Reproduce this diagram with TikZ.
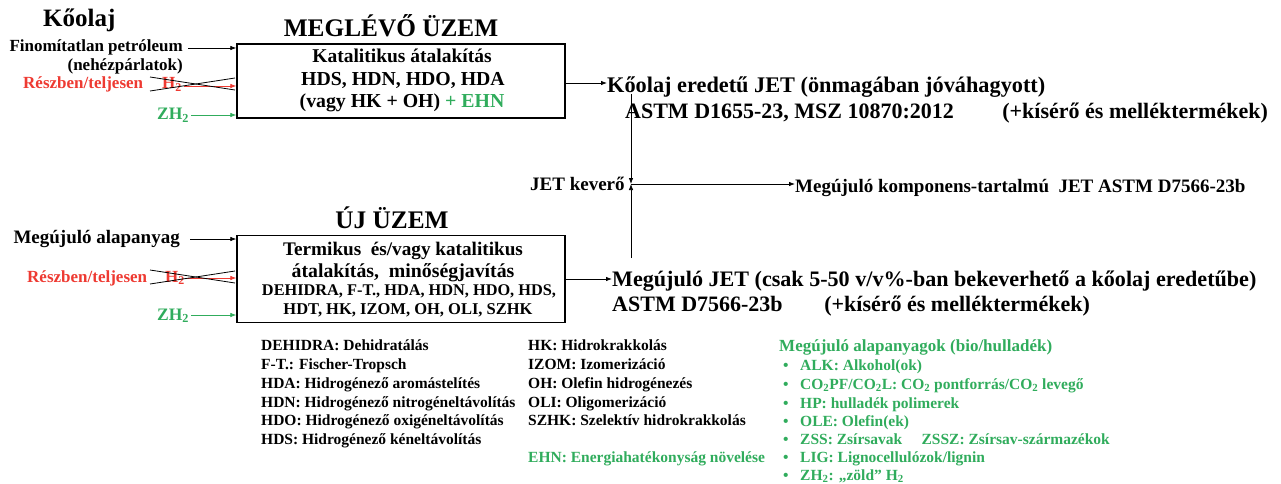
\documentclass[tikz,border=0pt]{standalone}
\usepackage{fontspec}
\setmainfont{Liberation Serif}
\usetikzlibrary{arrows.meta}
\definecolor{myred}{RGB}{238,58,50}
\definecolor{mygreen}{RGB}{48,172,92}
\newcommand{\fsz}[1]{\fontsize{#1}{#1}\selectfont}
\begin{document}
\begin{tikzpicture}[x=1pt,y=-1pt,font=\bfseries,
  tw/.style={inner sep=0pt,anchor=base west},
  te/.style={inner sep=0pt,anchor=base east},
  tc/.style={inner sep=0pt,anchor=base},
  arr/.style={-{Latex[length=6pt,width=4.5pt]},line width=0.75pt},
  boxst/.style={draw,line width=1.3pt,inner sep=0pt},
  red/.style={text=myred},
  grn/.style={text=mygreen},
]
\useasboundingbox (0,0) rectangle (1281,484);
% ---------- upper plant ----------
\node[tw,font=\bfseries\fsz{25}] (koolaj) at (43,27) {Kőolaj};
\node[tc,font=\bfseries\fsz{25.3}] (meg) at (391,37) {MEGLÉVŐ ÜZEM};
\node[boxst,minimum width=328pt,minimum height=74pt] (box1) at (401,81) {};
\node[te,font=\bfseries\fsz{17}] (fin) at (183,52) {Finomítatlan petróleum};
\node[te,font=\bfseries\fsz{17}] (neh) at (183,71) {(nehézpárlatok)};
\node[tw,red,font=\bfseries\fsz{17}] (resz1) at (23,89) {Részben/teljesen};
\node[tw,red,font=\bfseries\fsz{17}] (h1) at (162,89) {H\textsubscript{2}};
\node[tw,grn,font=\bfseries\fsz{17.5}] (zh1) at (157,120) {ZH\textsubscript{2}};
\coordinate (fin-s) at (188,48);
\coordinate (h1-s) at (184,86);
\coordinate (zh1-s) at (191,115);
\draw[arr] (fin-s) -- (box1.west |- fin-s);
\draw[arr,myred] (h1-s) -- (box1.west |- h1-s);
\draw[arr,mygreen] (zh1-s) -- (box1.west |- zh1-s);
\coordinate (x1a) at (150,77); \coordinate (x1b) at (235,90);
\coordinate (x1c) at (150,91); \coordinate (x1d) at (235,78);
\draw[line width=0.8pt] (x1a) -- (x1b);
\draw[line width=0.8pt] (x1c) -- (x1d);
\node[tc,font=\bfseries\fsz{19.5}] (b1l1) at (402,63) {Katalitikus átalakítás};
\node[tc,font=\bfseries\fsz{19.8}] (b1l2) at (403,86) {HDS, HDN, HDO, HDA};
\node[tc,font=\bfseries\fsz{19.8}] (b1l3) at (402,108) {(vagy HK + OH) \textcolor{mygreen}{+ EHN}};
% output 1
\node[tw,font=\bfseries\fsz{22.3}] (out1) at (607,93) {Kőolaj eredetű JET (önmagában\ jóváhagyott)};
\node[tw,font=\bfseries\fsz{22}] (out1b) at (625,118) {ASTM D1655-23, MSZ 10870:2012};
\node[te,font=\bfseries\fsz{22}] (out1c) at (1268,118) {(+kísérő és melléktermékek)};
\draw[arr] (box1.east |- 0,83) -- (out1.west |- 0,83);
% mixer
\node[tw,font=\bfseries\fsz{19}] (kev) at (530,190) {JET keverő};
\coordinate (mix) at (631,184);
\coordinate (v1) at (631,94);
\coordinate (v2) at (631,258);
\draw[arr] (v1) -- (mix);
\draw[arr] (v2) -- (mix);
\node[tw,font=\bfseries\fsz{19}] (mixout) at (795,192) {Megújuló komponens-tartalmú\ \ JET ASTM D7566-23b};
\draw[arr] (mix) -- (mixout.west |- mix);
% ---------- lower plant ----------
\node[tc,font=\bfseries\fsz{25.3}] (uj) at (392,228) {ÚJ ÜZEM};
\node[boxst,minimum width=328pt,minimum height=87pt] (box2) at (401,279) {};
\node[te,font=\bfseries\fsz{19}] (megal) at (180,243) {Megújuló alapanyag};
\node[tw,red,font=\bfseries\fsz{17}] (resz2) at (27,282) {Részben/teljesen};
\node[tw,red,font=\bfseries\fsz{17}] (h2) at (165,282) {H\textsubscript{2}};
\node[tw,grn,font=\bfseries\fsz{17.5}] (zh2) at (157,320) {ZH\textsubscript{2}};
\coordinate (megal-s) at (190,239);
\coordinate (h2-s) at (186,278);
\coordinate (zh2-s) at (191,315);
\draw[arr] (megal-s) -- (box2.west |- megal-s);
\draw[arr,myred] (h2-s) -- (box2.west |- h2-s);
\draw[arr,mygreen] (zh2-s) -- (box2.west |- zh2-s);
\coordinate (x2a) at (150,270); \coordinate (x2b) at (235,283);
\coordinate (x2c) at (150,284); \coordinate (x2d) at (235,271);
\draw[line width=0.8pt] (x2a) -- (x2b);
\draw[line width=0.8pt] (x2c) -- (x2d);
\node[tc,font=\bfseries\fsz{19.2}] (b2l1) at (403,255) {Termikus\ \ és/vagy katalitikus};
\node[tc,font=\bfseries\fsz{19.8}] (b2l2) at (403,277) {átalakítás,\ \ minőségjavítás};
\node[tc,font=\bfseries\fsz{16.3}] (b2l3) at (409,295) {DEHIDRA, F-T., HDA, HDN, HDO, HDS,};
\node[tc,font=\bfseries\fsz{16.5}] (b2l4) at (408,314) {HDT, HK, IZOM, OH, OLI, SZHK};
% output 2
\node[tw,font=\bfseries\fsz{22.1}] (out2) at (612,286) {Megújuló JET (csak 5-50 v/v\%-ban bekeverhető a kőolaj eredetűbe)};
\node[tw,font=\bfseries\fsz{22}] (out2b) at (612,311) {ASTM D7566-23b};
\node[te,font=\bfseries\fsz{22}] (out2c) at (1090,311) {(+kísérő és melléktermékek)};
\draw[arr] (box2.east |- 0,279) -- (out2.west |- 0,279);
% ---------- legends ----------
\begin{scope}[every node/.style={tw,font=\bfseries\fsz{15.5}}]
\node (l1) at (261,350) {DEHIDRA: Dehidratálás};
\node (l2) at (261,369) {F-T.: Fischer-Tropsch};
\node (l3) at (261,388) {HDA: Hidrogénező aromástelítés};
\node (l4) at (261,407) {HDN: Hidrogénező nitrogéneltávolítás};
\node (l5) at (261,425) {HDO: Hidrogénező oxigéneltávolítás};
\node (l6) at (261,444) {HDS: Hidrogénező kéneltávolítás};
\node (m1) at (528,350) {HK: Hidrokrakkolás};
\node (m2) at (528,369) {IZOM: Izomerizáció};
\node (m3) at (528,388) {OH: Olefin hidrogénezés};
\node (m4) at (528,407) {OLI: Oligomerizáció};
\node (m5) at (528,425) {SZHK: Szelektív hidrokrakkolás};
\node[grn] (m6) at (528,462) {EHN: Energiahatékonyság növelése};
\end{scope}
\begin{scope}[every node/.style={tw,grn,font=\bfseries\fsz{15.5}}]
\node[font=\bfseries\fsz{17}] (r0) at (779,351) {Megújuló alapanyagok (bio/hulladék)};
\node (r1) at (800,370) {ALK: Alkohol(ok)};
\node (r2) at (800,389) {CO\textsubscript{2}PF/CO\textsubscript{2}L: CO\textsubscript{2} pontforrás/CO\textsubscript{2} levegő};
\node (r3) at (800,408) {HP: hulladék polimerek};
\node (r4) at (800,426) {OLE: Olefin(ek)};
\node (r5) at (800,444) {ZSS: Zsírsavak\quad\ ZSSZ: Zsírsav-származékok};
\node (r6) at (800,462) {LIG: Lignocellulózok/lignin};
\node (r7) at (800,480) {ZH\textsubscript{2}: „zöld” H\textsubscript{2}};
\foreach \yy/\nm in {370/b1,389/b2,408/b3,426/b4,444/b5,462/b6,480/b7}
  \node (\nm) at (783,\yy) {•};
\end{scope}
\end{tikzpicture}
\end{document}
